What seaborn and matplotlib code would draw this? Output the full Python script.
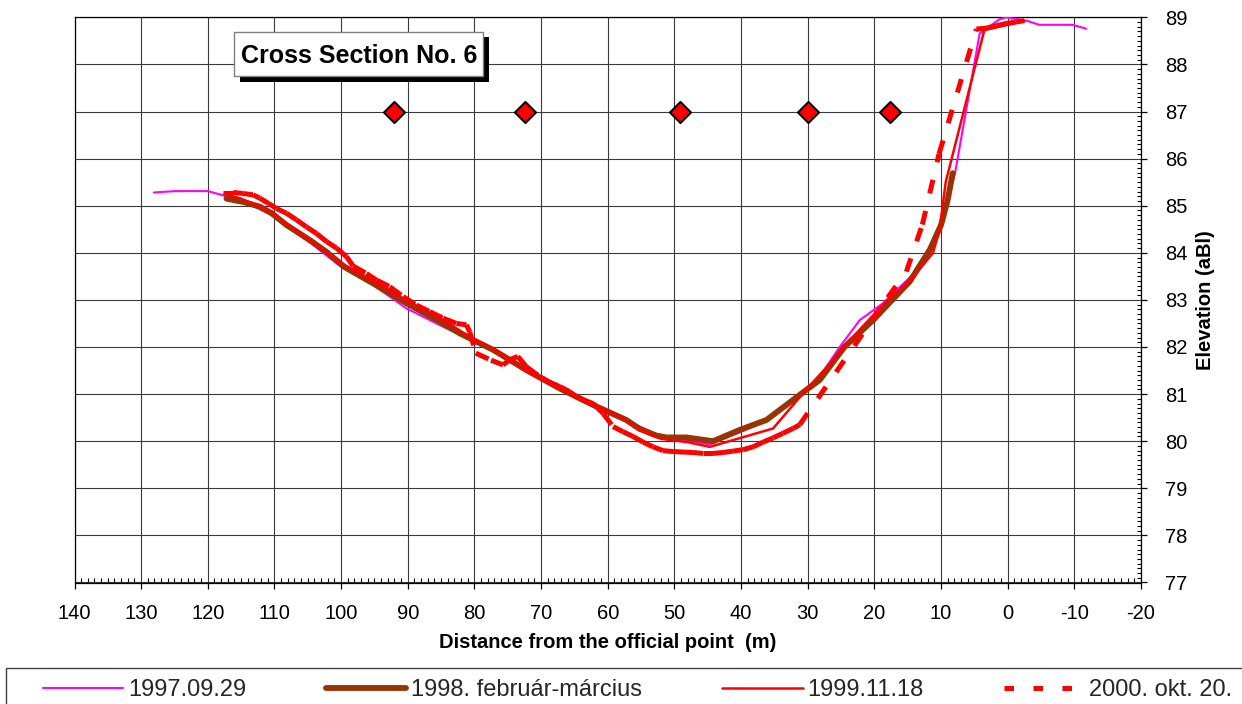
import numpy as np
import pandas as pd
import matplotlib
matplotlib.use("Agg")
import matplotlib.pyplot as plt
from matplotlib.lines import Line2D
from matplotlib.patches import Rectangle
from matplotlib.ticker import MultipleLocator
import seaborn as sns

# ---- survey profiles: distance from the official point (m) and elevation (aBl) ----
dist_1997 = [128.1, 124.9, 120.0, 117.2, 114.0, 110.7, 108.0, 104.5, 100.0, 95.0,
             90.2, 84.7, 80.0, 76.0, 72.0, 67.0, 62.0, 57.0, 52.0, 48.0,
             44.7, 40.0, 36.0, 30.5, 28.2, 25.2, 22.2, 18.7, 14.3, 10.2,
             7.9, 4.2, 1.2, 0.2, -2.8, -4.75, -9.7, -11.75]
elev_1997 = [85.28, 85.31, 85.31, 85.20, 85.05, 84.82, 84.55, 84.20, 83.70, 83.30,
             82.82, 82.43, 82.12, 81.85, 81.52, 81.13, 80.78, 80.43, 80.10, 80.02,
             79.93, 80.20, 80.45, 81.05, 81.37, 82.00, 82.57, 82.93, 83.53, 84.48,
             85.69, 88.66, 88.96, 89.00, 88.93, 88.84, 88.84, 88.76]

dist_1998 = [117.2, 114.7, 112.2, 110.4, 108.2, 104.7, 102.2, 99.5, 95.2, 90.2,
             85.2, 82.2, 80.2, 77.2, 72.2, 67.2, 62.2, 57.2, 55.2, 52.7,
             51.2, 48.2, 44.2, 40.2, 36.2, 30.2, 28.2, 24.5, 20.2, 14.7,
             11.7, 10.0, 9.0, 8.25]
elev_1998 = [85.15, 85.08, 84.98, 84.84, 84.59, 84.27, 84.02, 83.70, 83.35, 82.93,
             82.54, 82.29, 82.15, 81.94, 81.51, 81.12, 80.77, 80.45, 80.26, 80.12,
             80.08, 80.08, 80.00, 80.24, 80.45, 81.09, 81.30, 82.00, 82.57, 83.39,
             84.06, 84.59, 85.12, 85.69]

dist_1999 = [117.5, 115.0, 112.5, 110.5, 108.0, 104.5, 100.0, 95.0, 90.0, 85.0,
             80.5, 75.0, 71.7, 67.0, 62.0, 58.0, 56.0, 52.0, 48.0, 44.7,
             35.2, 30.2, 26.0, 22.0, 18.0, 14.7, 11.2, 10.2, 9.3, 3.5, -2.5]
elev_1999 = [85.25, 85.15, 85.00, 84.85, 84.60, 84.25, 83.78, 83.38, 82.98, 82.60,
             82.20, 81.78, 81.44, 81.10, 80.78, 80.50, 80.30, 80.05, 79.98, 79.88,
             80.27, 81.10, 81.75, 82.40, 83.00, 83.40, 84.00, 84.50, 85.50, 88.73, 88.92]

dist_2000 = [117.75, 116.2, 114.7, 113.2, 112.2, 110.9, 109.7, 108.2, 106.7, 105.2,
             103.7, 102.2, 100.7, 99.2, 98.2, 96.2, 94.7, 92.7, 90.7, 88.7,
             86.7, 84.7, 82.7, 81.2, 80.7,
             79.8, 77.5, 75.7, 74.7, 73.5, 72.2, 70.2, 68.7, 67.2, 65.7,
             64.7, 63.2, 62.2, 60.7, 59.2, 57.7, 56.2, 54.7, 53.2, 51.7,
             50.2, 48.7, 47.2, 45.7, 44.2, 42.7, 41.2, 39.7, 38.2, 36.7,
             35.2, 33.7, 32.2, 31.2,
             18.0, 15.2, 12.8, 10.3, 4.7,
             3.2, 1.7, 0.2, -1.2, -2.5]
elev_2000 = [85.28, 85.28, 85.26, 85.23, 85.16, 85.05, 84.94, 84.84, 84.70, 84.55,
             84.41, 84.24, 84.10, 83.92, 83.72, 83.56, 83.42, 83.28, 83.07, 82.89,
             82.75, 82.61, 82.50, 82.47, 82.32,
             81.87, 81.72, 81.62, 81.73, 81.80, 81.58, 81.37, 81.25, 81.16, 81.05,
             80.94, 80.85, 80.80, 80.59, 80.31, 80.20, 80.10, 79.98, 79.88, 79.80,
             79.78, 79.77, 79.76, 79.74, 79.74, 79.76, 79.79, 79.82, 79.88, 79.98,
             80.07, 80.17, 80.27, 80.35,
             83.05, 83.60, 84.60, 86.10, 88.75,
             88.77, 88.82, 88.87, 88.90, 88.93]

# survey benchmarks
mark_dist = [92.0, 72.4, 49.1, 30.0, 17.6]
mark_elev = [87.0, 87.0, 87.0, 87.0, 87.0]

labels = ["1997.09.29", "1998. február-március", "1999.11.18", "2000. okt. 20."]
x_ticks = list(range(140, -21, -10))
y_ticks = list(range(77, 90))

W, H = 1242, 704

sns.set_theme(style="white")
plt.rcParams["font.family"] = ["Liberation Sans", "DejaVu Sans"]
plt.rcParams["axes.unicode_minus"] = False

fig = plt.figure(figsize=(W / 100, H / 100), dpi=100)
fig.patch.set_facecolor("white")
ax = fig.add_axes([74.5 / W, 1 - 582.5 / H, (1141 - 74.5) / W, (582.5 - 17.3) / H])

# profiles
sns.lineplot(x=dist_1997, y=elev_1997, sort=False, estimator=None, color="#FF00FF",
             lw=1.5, ax=ax, zorder=3)
sns.lineplot(x=dist_1998, y=elev_1998, sort=False, estimator=None, color="#993300",
             lw=4.2, ax=ax, zorder=3)
sns.lineplot(x=dist_1999, y=elev_1999, sort=False, estimator=None, color="#FF0000",
             lw=1.8, ax=ax, zorder=3)

# the 2000 profile is dashed segment by segment (pattern restarts at every vertex)
dash = (0, (2.8, 3.6))
seg_rows = []
for i in range(len(dist_2000) - 1):
    seg_rows.append((dist_2000[i], elev_2000[i], i))
    seg_rows.append((dist_2000[i + 1], elev_2000[i + 1], i))
seg_df = pd.DataFrame(seg_rows, columns=["dist", "elev", "seg"])
sns.lineplot(data=seg_df, x="dist", y="elev", units="seg", estimator=None, sort=False,
             color="#FF0000", lw=3.6, linestyle=dash, ax=ax, legend=False, zorder=4)

sns.scatterplot(x=mark_dist, y=mark_elev, marker="D", s=115, color="#FF0000",
                edgecolor="black", linewidth=1.5, ax=ax, legend=False, zorder=5)

# axes
ax.set_xlim(140, -20)
ax.set_ylim(77, 89)
ax.set_xticks(x_ticks)
ax.set_xticklabels([str(t) for t in x_ticks])
ax.set_yticks(y_ticks)
ax.set_yticklabels([str(t) for t in y_ticks])
ax.xaxis.set_minor_locator(MultipleLocator(1))
ax.yaxis.set_minor_locator(MultipleLocator(0.1))
ax.yaxis.tick_right()
ax.yaxis.set_label_position("right")

ax.grid(True, which="major", color="#3a3a3a", lw=0.8)
ax.set_axisbelow(True)
for sp in ax.spines.values():
    sp.set_visible(True)
    sp.set_color("black")
    sp.set_linewidth(0.9)

ax.tick_params(axis="x", which="major", direction="out", length=4.5, width=0.9,
               color="black", labelsize=14.5, pad=11, bottom=True, top=False)
ax.tick_params(axis="x", which="minor", direction="in", length=3.5, width=0.8,
               color="#555555", bottom=True, top=False)
ax.tick_params(axis="y", which="major", direction="out", length=4.5, width=0.9,
               color="black", labelsize=14.5, pad=13, right=True, left=False)
ax.tick_params(axis="y", which="minor", direction="in", length=3.0, width=0.8,
               color="#555555", right=True, left=False)
ax.tick_params(colors="black", which="both", labelcolor="black")

ax.set_xlabel("Distance from the official point  (m)", fontsize=14.5,
              fontweight="bold", labelpad=7, color="black")
ax.set_ylabel("Elevation (aBl)", fontsize=14.5, fontweight="bold", labelpad=6,
              color="black")

# title box with drop shadow
bx0, by0, bx1, by1 = 234, 31.7, 483.3, 76.0
off = 5.5
fig.add_artist(Rectangle(((bx0 + off) / W, 1 - (by1 + off) / H), (bx1 - bx0) / W,
                         (by1 - by0) / H, transform=fig.transFigure,
                         facecolor="black", edgecolor="none", zorder=6))
fig.add_artist(Rectangle((bx0 / W, 1 - by1 / H), (bx1 - bx0) / W, (by1 - by0) / H,
                         transform=fig.transFigure, facecolor="white",
                         edgecolor="#808080", lw=1.0, zorder=7))
fig.text(358.8 / W, 1 - 62.7 / H, "Cross Section No. 6", ha="center", va="baseline",
         fontsize=18, fontweight="bold", color="black", zorder=8)

# legend
handles = [
    Line2D([], [], color="#FF00FF", lw=1.5),
    Line2D([], [], color="#993300", lw=4.2),
    Line2D([], [], color="#FF0000", lw=1.8),
    Line2D([], [], color="#FF0000", lw=3.6, linestyle=(0, (1.9, 3.9))),
]
fig.add_artist(Rectangle((6 / W, -0.02), 1.02, (H - 668) / H + 0.02,
                         transform=fig.transFigure, fill=False,
                         edgecolor="#404040", lw=1.0, zorder=6))
fig.legend(handles, labels, loc="center left",
           bbox_to_anchor=(43 / W, 1 - 690 / H, 1189 / W, 0), mode="expand",
           ncol=4, frameon=False, fontsize=17, handlelength=3.39,
           handletextpad=0.21, borderpad=0, borderaxespad=0)

fig.savefig("out.png", dpi=100, facecolor="white")
